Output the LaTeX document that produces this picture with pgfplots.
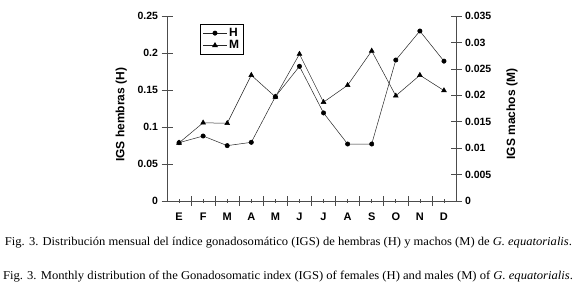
\documentclass[border=0pt]{standalone}
\usepackage{pgfplots}
\pgfplotsset{compat=1.18}
\usepackage{fontspec}
\setmainfont{Liberation Serif}
\newfontfamily\lsans{Liberation Sans}
\begin{document}
\begin{tikzpicture}[x=1pt,y=1pt]
\pgfplotsset{
  every axis/.append style={
    scale only axis, width=289pt, height=185pt,
    at={(167pt,87pt)}, anchor=south west,
    xmin=0.5, xmax=12.5, ymin=0,
    /pgf/number format/assume math mode=true,
    tick label style={font=\lsans\bfseries\fontsize{10.5}{12}\selectfont, black},
    label style={font=\lsans\bfseries\fontsize{12}{14}\selectfont},
    axis line style={black!70, line width=0.6pt},
    every tick/.style={black!70, line width=0.6pt},
    scaled ticks=false,
    clip=false,
    tick align=center,
  }
}
% x axis
\begin{axis}[
  axis x line*=bottom, axis y line*=left,
  ymax=0.25,
  xtick={1,...,12},
  xticklabels={E,F,M,A,M,J,J,A,S,O,N,D},
  xticklabel style={font=\lsans\bfseries\fontsize{11}{12}\selectfont, anchor=center, yshift=-14pt},
  minor x tick num=1,
  major tick length=4pt,
  minor tick length=10pt,
  ytick=\empty,
  legend style={draw=black, line width=0.6pt, at={(0.114,0.957)}, anchor=north west,
    font=\lsans\bfseries\fontsize{12}{12}\selectfont, inner xsep=2.5pt, inner ysep=2pt, row sep=-1.5pt,
    legend cell align=left},
  legend image code/.code={\draw[mark repeat=2,mark phase=2,#1] plot coordinates {(0pt,0pt) (12pt,0pt) (24pt,0pt)};},
]
\addplot[black!85, line width=0.5pt, mark=*, mark size=2.2pt, mark options={black}] coordinates {
(1,0.0788) (2,0.0878) (3,0.0748) (4,0.0793) (5,0.141) (6,0.182)
(7,0.119) (8,0.077) (9,0.077) (10,0.1905) (11,0.2297) (12,0.189)};
\addlegendentry{H}
\addlegendimage{black!85, line width=0.5pt, mark=triangle*, mark size=2.8pt, mark options={black}}
\addlegendentry{M}
\end{axis}
% left y axis ticks
\begin{axis}[
  hide x axis,
  axis y line*=left,
  ymax=0.25,
  ytick={0,0.05,0.1,0.15,0.2,0.25},
  yticklabels={0,0.05,0.1,0.15,0.2,0.25},
  major tick length=11pt,
  ylabel={IGS hembras (H)},
  ylabel style={at={(axis description cs:-0.158,0.465)}, anchor=center},
]
\end{axis}
% right y axis
\begin{axis}[
  hide x axis,
  axis y line*=right,
  ymax=0.035,
  ytick={0,0.005,0.01,0.015,0.02,0.025,0.03,0.035},
  yticklabels={0,0.005,0.01,0.015,0.02,0.025,0.03,0.035},
  major tick length=11pt,
  ylabel={IGS machos (M)},
  ylabel style={at={(axis description cs:1.194,0.47)}, anchor=center},
]
\addplot[black!85, line width=0.5pt, mark=triangle*, mark size=2.8pt, mark options={black}] coordinates {
(1,0.0110) (2,0.0148) (3,0.0147) (4,0.0238) (5,0.0197) (6,0.0278)
(7,0.0187) (8,0.0219) (9,0.0284) (10,0.0199) (11,0.0238) (12,0.0209)};
\end{axis}
\node[anchor=base, inner sep=0pt] at (288.5pt,42.3pt) {\resizebox{567pt}{\height}{\fontsize{12}{14}\selectfont Fig. 3. Distribución mensual del índice gonadosomático (IGS) de hembras (H) y machos (M) de \textit{G. equatorialis}.}};
\node[anchor=base, inner sep=0pt] at (288pt,8.5pt) {\resizebox{570pt}{\height}{\fontsize{12}{14}\selectfont Fig. 3. Monthly distribution of the Gonadosomatic index (IGS) of females (H) and males (M) of \textit{G. equatorialis}.}};
\pgfresetboundingbox
\path (0,0) rectangle (580pt,288pt);
\end{tikzpicture}
\end{document}
